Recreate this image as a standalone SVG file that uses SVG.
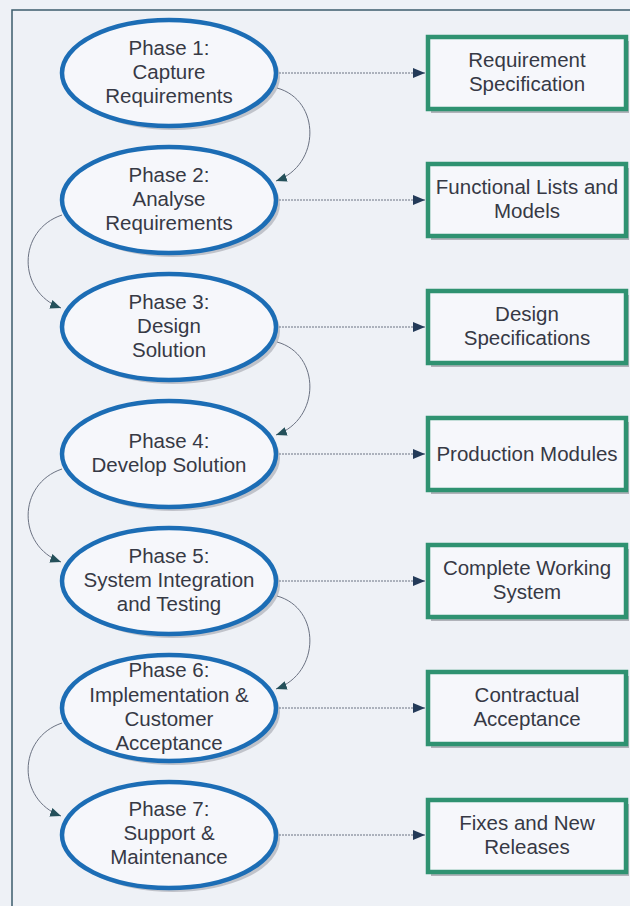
<svg xmlns="http://www.w3.org/2000/svg" width="630" height="906" viewBox="0 0 630 906">
<defs>
<style>
.bg{fill:#eef1f6}
.frame{fill:none;stroke:#3d5c6c;stroke-width:1.5}
.ell{fill:#f6f7fb;stroke:#1c6db5;stroke-width:4.5}
.esh{fill:#9a9ca6;opacity:0.55}
.box{fill:#f6f7fb;stroke:#2f9271;stroke-width:4.5}
.bsh{fill:#8f9198;opacity:0.65}
.t{font-family:"Liberation Sans",Arial,sans-serif;font-size:20.5px;fill:#363945;text-anchor:middle}
.h{fill:none;stroke:#6b7282;stroke-width:1;stroke-dasharray:2 1}
.c{fill:none;stroke:#6b7282;stroke-width:1}
</style>
<marker id="ah" viewBox="0 0 12 10" refX="12" refY="5" markerWidth="12" markerHeight="10" markerUnits="userSpaceOnUse" orient="auto">
<path d="M0,0 L12,5 L0,10 z" fill="#233a58"/>
</marker>
<marker id="ac" viewBox="0 0 12 10" refX="12" refY="5" markerWidth="11" markerHeight="9" markerUnits="userSpaceOnUse" orient="auto">
<path d="M0,0 L12,5 L0,10 z" fill="#24505a"/>
</marker>
</defs>
<rect class="bg" x="0" y="0" width="630" height="906"/>
<rect class="frame" x="12" y="10" width="640" height="920"/>

<g id="connectors">
<path class="h" d="M279 73 L425 73" marker-end="url(#ah)"/>
<path class="h" d="M279 200 L425 200" marker-end="url(#ah)"/>
<path class="h" d="M279 327 L425 327" marker-end="url(#ah)"/>
<path class="h" d="M279 454 L425 454" marker-end="url(#ah)"/>
<path class="h" d="M279 581 L425 581" marker-end="url(#ah)"/>
<path class="h" d="M279 708 L425 708" marker-end="url(#ah)"/>
<path class="h" d="M279 835 L425 835" marker-end="url(#ah)"/>
<path class="c" d="M277 88 C321 100,321 165,276 181" marker-end="url(#ac)"/>
<path class="c" d="M62 215 C17 230,17 292,61 308" marker-end="url(#ac)"/>
<path class="c" d="M277 342 C321 354,321 419,276 435" marker-end="url(#ac)"/>
<path class="c" d="M62 469 C17 484,17 546,61 562" marker-end="url(#ac)"/>
<path class="c" d="M277 596 C321 608,321 673,276 689" marker-end="url(#ac)"/>
<path class="c" d="M62 723 C17 738,17 800,61 816" marker-end="url(#ac)"/>
</g>

<g id="phase1">
<ellipse class="esh" cx="173" cy="77" rx="107" ry="53"/>
<ellipse class="ell" cx="169" cy="73" rx="107" ry="53"/>
<text class="t" x="169" y="55">Phase 1:</text>
<text class="t" x="169" y="79">Capture</text>
<text class="t" x="169" y="103">Requirements</text>
</g>
<g id="phase2">
<ellipse class="esh" cx="173" cy="204" rx="107" ry="53"/>
<ellipse class="ell" cx="169" cy="200" rx="107" ry="53"/>
<text class="t" x="169" y="182">Phase 2:</text>
<text class="t" x="169" y="206">Analyse</text>
<text class="t" x="169" y="230">Requirements</text>
</g>
<g id="phase3">
<ellipse class="esh" cx="173" cy="331" rx="107" ry="53"/>
<ellipse class="ell" cx="169" cy="327" rx="107" ry="53"/>
<text class="t" x="169" y="309">Phase 3:</text>
<text class="t" x="169" y="333">Design</text>
<text class="t" x="169" y="357">Solution</text>
</g>
<g id="phase4">
<ellipse class="esh" cx="173" cy="458" rx="107" ry="53"/>
<ellipse class="ell" cx="169" cy="454" rx="107" ry="53"/>
<text class="t" x="169" y="448">Phase 4:</text>
<text class="t" x="169" y="472">Develop Solution</text>
</g>
<g id="phase5">
<ellipse class="esh" cx="173" cy="585" rx="107" ry="53"/>
<ellipse class="ell" cx="169" cy="581" rx="107" ry="53"/>
<text class="t" x="169" y="563">Phase 5:</text>
<text class="t" x="169" y="587">System Integration</text>
<text class="t" x="169" y="611">and Testing</text>
</g>
<g id="phase6">
<ellipse class="esh" cx="173" cy="712" rx="107" ry="53"/>
<ellipse class="ell" cx="169" cy="708" rx="107" ry="53"/>
<text class="t" x="169" y="677">Phase 6:</text>
<text class="t" x="169" y="702">Implementation &amp;</text>
<text class="t" x="169" y="726">Customer</text>
<text class="t" x="169" y="750">Acceptance</text>
</g>
<g id="phase7">
<ellipse class="esh" cx="173" cy="839" rx="107" ry="53"/>
<ellipse class="ell" cx="169" cy="835" rx="107" ry="53"/>
<text class="t" x="169" y="816">Phase 7:</text>
<text class="t" x="169" y="840">Support &amp;</text>
<text class="t" x="169" y="864">Maintenance</text>
</g>

<g id="out1">
<rect class="bsh" x="431" y="41" width="198" height="72"/>
<rect class="box" x="428" y="37" width="198" height="72"/>
<text class="t" x="527" y="67">Requirement</text>
<text class="t" x="527" y="91">Specification</text>
</g>
<g id="out2">
<rect class="bsh" x="431" y="168" width="198" height="72"/>
<rect class="box" x="428" y="164" width="198" height="72"/>
<text class="t" x="527" y="194">Functional Lists and</text>
<text class="t" x="527" y="218">Models</text>
</g>
<g id="out3">
<rect class="bsh" x="431" y="295" width="198" height="72"/>
<rect class="box" x="428" y="291" width="198" height="72"/>
<text class="t" x="527" y="321">Design</text>
<text class="t" x="527" y="345">Specifications</text>
</g>
<g id="out4">
<rect class="bsh" x="431" y="422" width="198" height="72"/>
<rect class="box" x="428" y="418" width="198" height="72"/>
<text class="t" x="527" y="461">Production Modules</text>
</g>
<g id="out5">
<rect class="bsh" x="431" y="549" width="198" height="72"/>
<rect class="box" x="428" y="545" width="198" height="72"/>
<text class="t" x="527" y="575">Complete Working</text>
<text class="t" x="527" y="599">System</text>
</g>
<g id="out6">
<rect class="bsh" x="431" y="676" width="198" height="72"/>
<rect class="box" x="428" y="672" width="198" height="72"/>
<text class="t" x="527" y="702">Contractual</text>
<text class="t" x="527" y="726">Acceptance</text>
</g>
<g id="out7">
<rect class="bsh" x="431" y="804" width="198" height="72"/>
<rect class="box" x="428" y="800" width="198" height="72"/>
<text class="t" x="527" y="830">Fixes and New</text>
<text class="t" x="527" y="854">Releases</text>
</g>
</svg>
